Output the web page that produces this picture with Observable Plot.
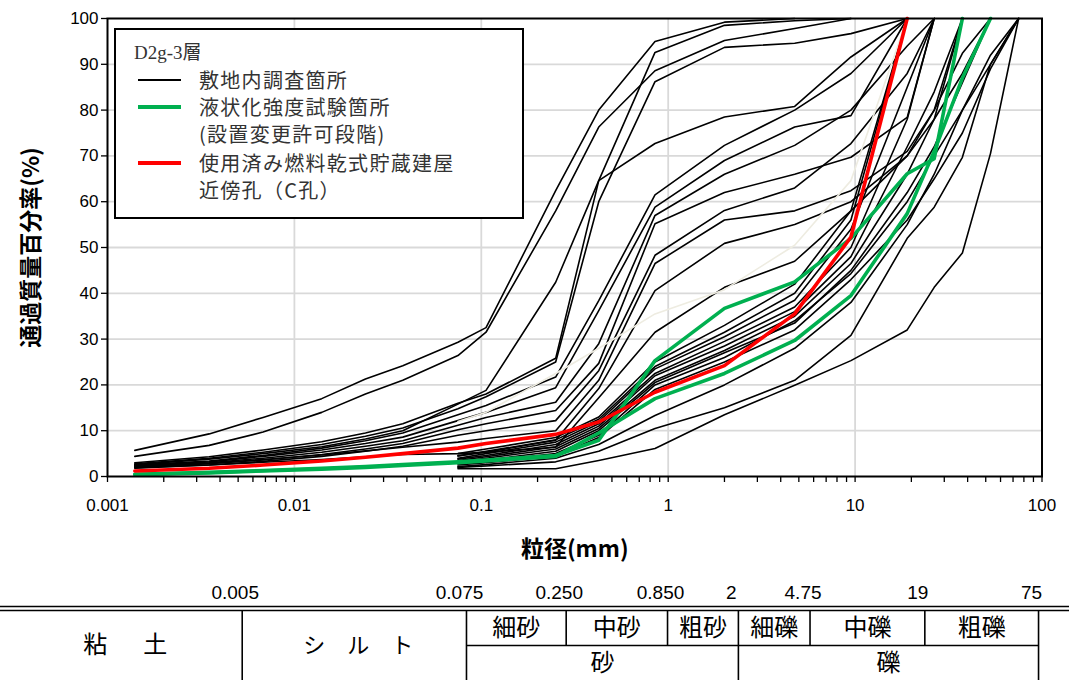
<!DOCTYPE html>
<html><head><meta charset="utf-8">
<script src="https://cdn.jsdelivr.net/npm/d3@7"></script>
<script src="https://cdn.jsdelivr.net/npm/@observablehq/plot@0.6"></script>
<style>
body{margin:0;background:#fff;}
#wrap{position:relative;width:1069px;height:680px;overflow:hidden;background:#fff;font-family:"Noto Sans CJK JP",sans-serif;}
#chart{position:absolute;left:0;top:0;}
#table{position:absolute;left:0;top:575px;}
#legend{position:absolute;left:114px;top:28px;width:406px;height:187px;border:2px solid #000;background:#fff;color:#333;}
#legend .t{position:absolute;left:83px;font-size:20px;letter-spacing:1.3px;line-height:1;transform:translateY(-50%);white-space:nowrap;}
#legend .title{position:absolute;left:18px;top:22px;transform:translateY(-50%);font-family:"Liberation Serif","DejaVu Serif","Noto Sans CJK JP",serif;font-size:19px;line-height:1;}
#legend .s{position:absolute;left:22px;width:43px;}
</style></head>
<body>
<div id="wrap">
  <div id="chart"></div>
  <div id="legend"></div>
  <div id="table"></div>
</div>
<script>
// particle sizes (mm): hydrometer points then sieves
const sizes = [0.0014,0.0035,0.0068,0.014,0.024,0.038,0.075,0.106,0.25,0.425,0.85,2,4.75,9.5,19,26.5,37.5,53,75];
const N = null;
// site investigation samples (black)
const s01 = [5.7,9.3,12.9,17.0,21.3,24.2,29.3,32.5,62.4,80.0,95.0,99.2,100];
const s02 = [4.4,6.8,9.7,14.0,18.0,21.0,26.4,31.5,58.0,76.3,88.6,95.2,97.8,100];
const s03 = [3.0,4.3,5.8,7.6,9.5,11.5,16.0,18.0,25.8,64.6,92.6,98.5,99.5,100];
const s04 = [2.8,4.0,5.3,7.0,8.8,10.6,14.8,17.4,25.0,60.0,86.2,93.7,94.6,96.7,100];
const s05 = [2.6,3.8,5.0,6.5,8.2,10.0,15.8,18.8,42.4,64.6,72.7,78.5,80.8,91.6,100];
const s06 = [2.5,3.4,4.6,6.2,7.8,9.5,13.5,15.5,21.7,38.4,61.5,72.3,80.0,88.0,100];
const s07 = [2.4,3.2,4.4,5.8,7.2,8.6,12.2,14.0,19.4,36.2,58.8,69.0,76.3,78.8,100];
const s08 = [2.2,3.0,4.0,5.3,6.6,7.8,11.2,12.9,16.2,29.0,57.0,66.0,72.3,80.0,94.0,100];
const s09 = [2.0,2.8,3.6,4.8,6.0,7.2,10.2,11.5,14.4,24.7,55.2,62.0,66.0,69.7,78.4,100];
const s10 = [1.8,2.5,3.3,4.4,5.5,6.6,9.0,10.0,12.2,23.1,48.3,58.1,63.0,72.7,88.0,100];
const s11 = [2.2,2.9,3.7,4.7,5.6,6.4,7.5,8.3,10.0,21.0,46.5,56.0,58.0,62.4,71.0,80.0,100];
const s12 = [1.9,2.5,3.1,3.7,4.3,4.8,5.0,5.3,7.9,19.2,40.6,50.9,55.0,60.0,70.0,80.0,92.4,100];
const s13 = [N,N,N,N,N,N,4.5,5.3,6.4,17.2,31.5,41.3,47.0,58.0,70.0,78.0,88.0,100];
const s14 = [N,N,N,N,N,N,5.0,6.0,8.5,13.0,25.0,33.0,42.0,58.0,100];
const s15 = [N,N,N,N,N,N,4.5,5.5,8.0,12.5,24.0,31.5,40.0,56.0,100];
const s16 = [N,N,N,N,N,N,4.0,5.0,7.5,12.0,23.5,30.5,38.5,54.0,85.0,100];
const s17 = [N,N,N,N,N,N,3.8,4.6,7.0,11.5,22.5,29.5,37.0,50.0,78.0,100];
const s18 = [N,N,N,N,N,N,3.5,4.3,6.5,11.0,22.0,28.5,36.0,48.0,72.0,84.0,100];
const s19 = [N,N,N,N,N,N,3.2,4.0,6.0,10.5,21.0,27.5,35.0,46.5,66.0,78.0,100];
const s20 = [N,N,N,N,N,N,3.0,3.6,5.5,10.0,20.5,27.0,33.5,45.0,62.0,72.0,86.0,100];
const s21 = [N,N,N,N,N,N,2.8,3.3,5.0,9.0,20.0,26.0,34.0,44.3,60.0,70.0,80.0,90.0,100];
const s22 = [N,N,N,N,N,N,2.5,3.0,4.5,8.5,19.0,25.0,32.0,43.0,56.0,65.0,75.0,89.0,100];
const s23 = [N,N,N,N,N,N,2.2,2.6,4.0,7.0,13.3,20.0,28.0,38.0,55.0,66.0,80.0,92.0,100];
const s24 = [N,N,N,N,N,N,2.0,2.3,3.2,5.5,10.5,15.0,21.0,30.8,52.0,58.8,69.7,90.0,100];
const s25 = [N,N,N,N,N,N,1.7,1.7,1.7,3.5,6.1,13.5,19.9,25.3,32.0,41.3,48.8,70.5,100];
const sFaint = [N,N,N,N,N,N,12.0,14.0,22.5,28.0,35.5,40.8,50.5,64.6,100];
// liquefaction strength test locations (green)
const g1 = [0.5,0.9,1.3,1.8,2.2,2.6,3.2,3.6,4.6,7.9,25.3,36.7,42.5,52.0,66.1,69.4,100];
const g2 = [0.4,0.8,1.2,1.6,2.0,2.4,3.0,3.4,4.4,9.5,17.0,22.5,29.7,39.5,57.4,71.0,87.0,100];
// borehole C (red)
const r1 = [1.2,1.8,2.5,3.4,4.2,5.0,6.2,7.2,9.2,11.9,18.4,24.2,35.5,52.3,100];

const blackSeries = [s01,s02,s03,s04,s05,s06,s07,s08,s09,s10,s11,s12,s13,s14,s15,s16,s17,s18,s19,s20,s21,s22,s23,s24,s25];

const xTicks = [0.001,0.01,0.1,1,10,100];
const xTickLabels = ["0.001","0.01","0.1","1","10","100"];
const yTicks = [0,10,20,30,40,50,60,70,80,90,100];
const xMinor = [];
for (let e = -3; e < 2; e++) for (let m = 2; m <= 9; m++) xMinor.push(m * Math.pow(10, e));

const xTitle = "粒径(mm)";
const yTitle = "通過質量百分率(%)";

const legendTitle = "D2g-3層";
const legendItems = [
  {label: "敷地内調査箇所", color: "#000000", width: 1.6, line: true},
  {label: "液状化強度試験箇所", color: "#00b050", width: 4, line: true},
  {label: "(設置変更許可段階)", line: false},
  {label: "使用済み燃料乾式貯蔵建屋", color: "#ff0000", width: 4, line: true},
  {label: "近傍孔（C孔）", line: false}
];

// soil classification table
const boundaries = [0.005,0.075,0.25,0.85,2,4.75,19,75];
const boundaryLabels = ["0.005","0.075","0.250","0.850","2","4.75","19","75"];
const fullHeightBounds = [0.005,0.075,2,75];
const subBounds = [0.25,0.85,4.75,19];
const mainClasses = [
  {name:"粘　\u2002土", lo:0.00027, hi:0.005, size:24},
  {name:"シ　ル　ト", lo:0.005, hi:0.075, size:22}
];
const subClasses = [
  {name:"細砂", lo:0.075, hi:0.25},
  {name:"中砂", lo:0.25, hi:0.85},
  {name:"粗砂", lo:0.85, hi:2},
  {name:"細礫", lo:2, hi:4.75},
  {name:"中礫", lo:4.75, hi:19},
  {name:"粗礫", lo:19, hi:75}
];
const groupClasses = [
  {name:"砂", lo:0.075, hi:2},
  {name:"礫", lo:2, hi:75}
];

// ---- build rows ----
function toRows(arr, name) {
  const out = [];
  arr.forEach((v, i) => { if (v != null) out.push({name, d: sizes[i], p: v}); });
  return out;
}
const blackRows = blackSeries.flatMap((s, i) => toRows(s, "b" + i));
const faintRows = toRows(sFaint, "faint");
const greenRows = [...toRows(g1, "g1"), ...toRows(g2, "g2")];
const redRows = toRows(r1, "r1");

const numFont = '"Liberation Sans Narrow","Liberation Sans","Noto Sans CJK JP",sans-serif';
const jpFont = '"Noto Sans CJK JP",sans-serif';

const chart = Plot.plot({
  width: 1069, height: 565,
  marginLeft: 107, marginRight: 27.5, marginTop: 18, marginBottom: 89,
  style: {fontFamily: numFont, fontSize: "17px", color: "#000", background: "#fff", overflow: "visible"},
  x: {type: "log", domain: [0.001, 100]},
  y: {domain: [0, 100]},
  marks: [
    Plot.ruleY(yTicks.slice(1, -1), {stroke: "#d9d9d9", strokeWidth: 1.8}),
    Plot.ruleX(xTicks.slice(1, -1), {stroke: "#d9d9d9", strokeWidth: 1.8}),
    Plot.line(blackRows, {x: "d", y: "p", z: "name", stroke: "#000", strokeWidth: 1.6}),
    Plot.line(faintRows, {x: "d", y: "p", z: "name", stroke: "#eeece1", strokeWidth: 1.6}),
    Plot.line(greenRows, {x: "d", y: "p", z: "name", stroke: "#00b050", strokeWidth: 3.6}),
    Plot.line(redRows, {x: "d", y: "p", z: "name", stroke: "#ff0000", strokeWidth: 3.6}),
    Plot.frame({stroke: "#000", strokeWidth: 2}),
    Plot.axisX(xMinor, {tickSize: 6, tickFormat: () => "", label: null, strokeWidth: 1.3}),
    Plot.axisX(xTicks, {tickSize: 6, tickPadding: 16, tickFormat: (d) => xTickLabels[xTicks.indexOf(d)], label: null, fontSize: 17, strokeWidth: 1.3}),
    Plot.axisY(yTicks, {tickSize: 6, tickPadding: 3, label: null, fontSize: 17, strokeWidth: 1.3}),
    Plot.text([xTitle], {frameAnchor: "bottom", dy: 73, textAnchor: "middle", lineAnchor: "middle", fontWeight: "bold", fontSize: 23, fontFamily: jpFont}),
    Plot.text([yTitle], {frameAnchor: "left", dx: -76, textAnchor: "middle", lineAnchor: "middle", rotate: -90, fontWeight: "bold", fontSize: 23, fontFamily: jpFont})
  ]
});
document.getElementById("chart").appendChild(chart);

// ---- legend ----
const lg = document.getElementById("legend");
const t0 = document.createElement("div");
t0.className = "title"; t0.textContent = legendTitle; lg.appendChild(t0);
const rowY = [50, 77, 104, 133, 160];
legendItems.forEach((it, i) => {
  const t = document.createElement("div");
  t.className = "t"; t.style.top = rowY[i] + "px"; t.textContent = it.label; lg.appendChild(t);
  if (it.line) {
    const s = document.createElement("div");
    s.className = "s";
    s.style.top = (rowY[i] - it.width / 2) + "px";
    s.style.height = it.width + "px";
    s.style.background = it.color;
    lg.appendChild(s);
  }
});

// ---- classification table ----
const gm = (c) => Math.sqrt(c.lo * c.hi);
const table = Plot.plot({
  width: 1069, height: 105, margin: 0,
  style: {fontFamily: jpFont, color: "#000", background: "#fff", overflow: "visible"},
  x: {type: "log", domain: [0.00027, 109], axis: null},
  y: {domain: [0, 3], range: [0, 105], axis: null},
  marks: [
    Plot.ruleY([1], {dy: -4, stroke: "#000", strokeWidth: 1.6}),
    Plot.ruleY([1], {stroke: "#000", strokeWidth: 1.6}),
    Plot.ruleY([{y: 2, x1: boundaries[1], x2: boundaries[boundaries.length - 1]}], {y: "y", x1: "x1", x2: "x2", stroke: "#000", strokeWidth: 1.6}),
    Plot.ruleX(fullHeightBounds, {y1: 1, y2: 3, stroke: "#000", strokeWidth: 1.6}),
    Plot.ruleX(subBounds, {y1: 1, y2: 2, stroke: "#000", strokeWidth: 1.6}),
    Plot.text(boundaries, {x: d => d, y: 0.5, text: (d, i) => boundaryLabels[i], dx: -7, fontSize: 19, fontFamily: numFont}),
    Plot.text(mainClasses, {x: gm, y: 2, text: "name", fontSize: d => d.size, dx: 4}),
    Plot.text(subClasses, {x: gm, y: 1.5, text: "name", fontSize: 24}),
    Plot.text(groupClasses, {x: gm, y: 2.5, text: "name", fontSize: 24})
  ]
});
document.getElementById("table").appendChild(table);
</script>
</body></html>
